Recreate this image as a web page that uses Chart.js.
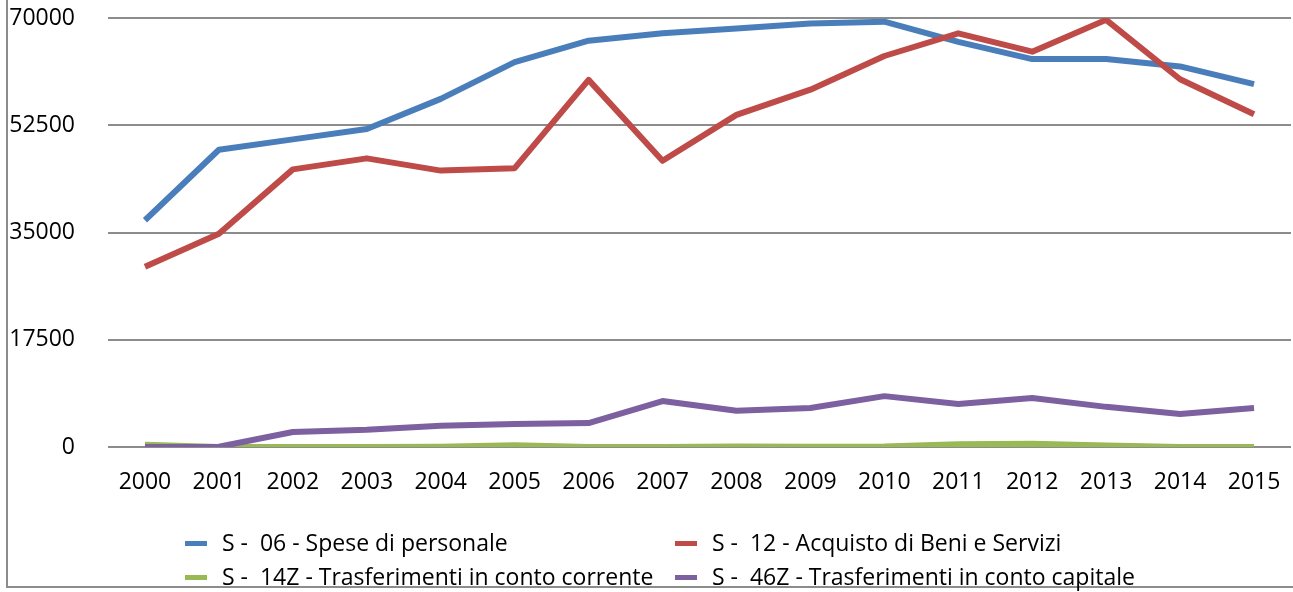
<!DOCTYPE html>
<html>
<head>
<meta charset="utf-8">
<script src="https://cdn.jsdelivr.net/npm/chart.js@4/dist/chart.umd.min.js"></script>
<style>
  html, body { margin: 0; padding: 0; background: #fff; }
  #wrap { position: relative; width: 1293px; height: 592px; overflow: hidden; font-family: "Open Sans", sans-serif; }
  #frame { position: absolute; left: 6px; top: -4px; width: 1300px; height: 592px; border-left: 2px solid #8c8c8c; border-bottom: 2px solid #8c8c8c; box-sizing: border-box; }
  #legend { position: absolute; left: 0; top: 0; width: 100%; height: 100%; pointer-events: none; }
  .item { position: absolute; font-size: 23px; color: #000; white-space: pre; line-height: 1; }
  .item i { position: absolute; left: -37px; top: 10px; width: 22px; height: 5px; }
</style>
</head>
<body>
<div id="wrap">
  <canvas id="myChart"></canvas>
  <div id="frame"></div>
  <div id="legend"></div>
</div>
<script>
const years = ["2000", "2001", "2002", "2003", "2004", "2005", "2006", "2007",
  "2008", "2009", "2010", "2011", "2012", "2013", "2014", "2015"];
const yTicks = [0, 17500, 35000, 52500, 70000];

const spesePersonale = [37000, 48500, 50200, 51900, 56800, 62800, 66300, 67500,
  68300, 69100, 69400, 66100, 63300, 63300, 62100, 59200];
const beniServizi = [29400, 34800, 45300, 47100, 45100, 45500, 59900, 46700,
  54200, 58300, 63800, 67500, 64500, 69700, 60000, 54300];
const trasfCorrente = [350, 0, 0, 0, 50, 300, 0, 0, 100, 50, 100, 450, 550, 250, 0, 0];
const trasfCapitale = [0, 50, 2450, 2800, 3450, 3750, 3900, 7500, 5900, 6350, 8300, 7000, 8000, 6550, 5400, 6350];

const seriesNames = [
  "S -  06 - Spese di personale",
  "S -  12 - Acquisto di Beni e Servizi",
  "S -  14Z - Trasferimenti in conto corrente",
  "S -  46Z - Trasferimenti in conto capitale",
];
const colors = ["#4a7ebb", "#be4b48", "#98b954", "#7d60a0"];

const ctx = document.getElementById("myChart").getContext("2d");
const lineDs = (i, data) => ({
  label: seriesNames[i],
  data: data,
  borderColor: colors[i],
  backgroundColor: colors[i],
  borderWidth: 6,
  pointRadius: 0,
  tension: 0,
  borderJoinStyle: "round",
  order: 4 - i,
});

const myChart = new Chart(ctx, {
  type: "line",
  data: {
    labels: years,
    datasets: [
      lineDs(0, spesePersonale),
      lineDs(1, beniServizi),
      lineDs(2, trasfCorrente),
      lineDs(3, trasfCapitale),
    ],
  },
  options: {
    responsive: true,
    maintainAspectRatio: false,
    animation: false,
    layout: { padding: { top: 18, right: 2, left: 0, bottom: 98 } },
    plugins: { legend: { display: false }, tooltip: { enabled: false } },
    scales: {
      x: {
        offset: true,
        grid: { display: false },
        border: { display: false },
        ticks: { color: "#000", padding: 14, font: { family: "Open Sans", size: 23 }, maxRotation: 0 },
        afterFit: (scale) => { scale.height = 47; scale.paddingLeft = 0; scale.paddingRight = 0; },
      },
      y: {
        min: 0,
        max: 70000,
        afterBuildTicks: (scale) => { scale.ticks = yTicks.map((v) => ({ value: v })); },
        grid: { color: "#8c8c8c", lineWidth: 2, drawTicks: false },
        border: { display: false },
        ticks: {
          color: "#000",
          padding: 33,
          font: { family: "Open Sans", size: 23 },
          callback: (v) => String(v),
        },
        afterFit: (scale) => { scale.width = 108; scale.paddingTop = 0; scale.paddingBottom = 0; },
      },
    },
  },
});

// legend in two columns, like the original
const legendPos = [[222, 531], [712, 531], [222, 565], [712, 565]];
const legend = document.getElementById("legend");
seriesNames.forEach((name, i) => {
  const d = document.createElement("div");
  d.className = "item";
  d.style.left = legendPos[i][0] + "px";
  d.style.top = legendPos[i][1] + "px";
  d.textContent = name;
  const sw = document.createElement("i");
  sw.style.background = colors[i];
  d.appendChild(sw);
  legend.appendChild(d);
});
</script>
</body>
</html>
